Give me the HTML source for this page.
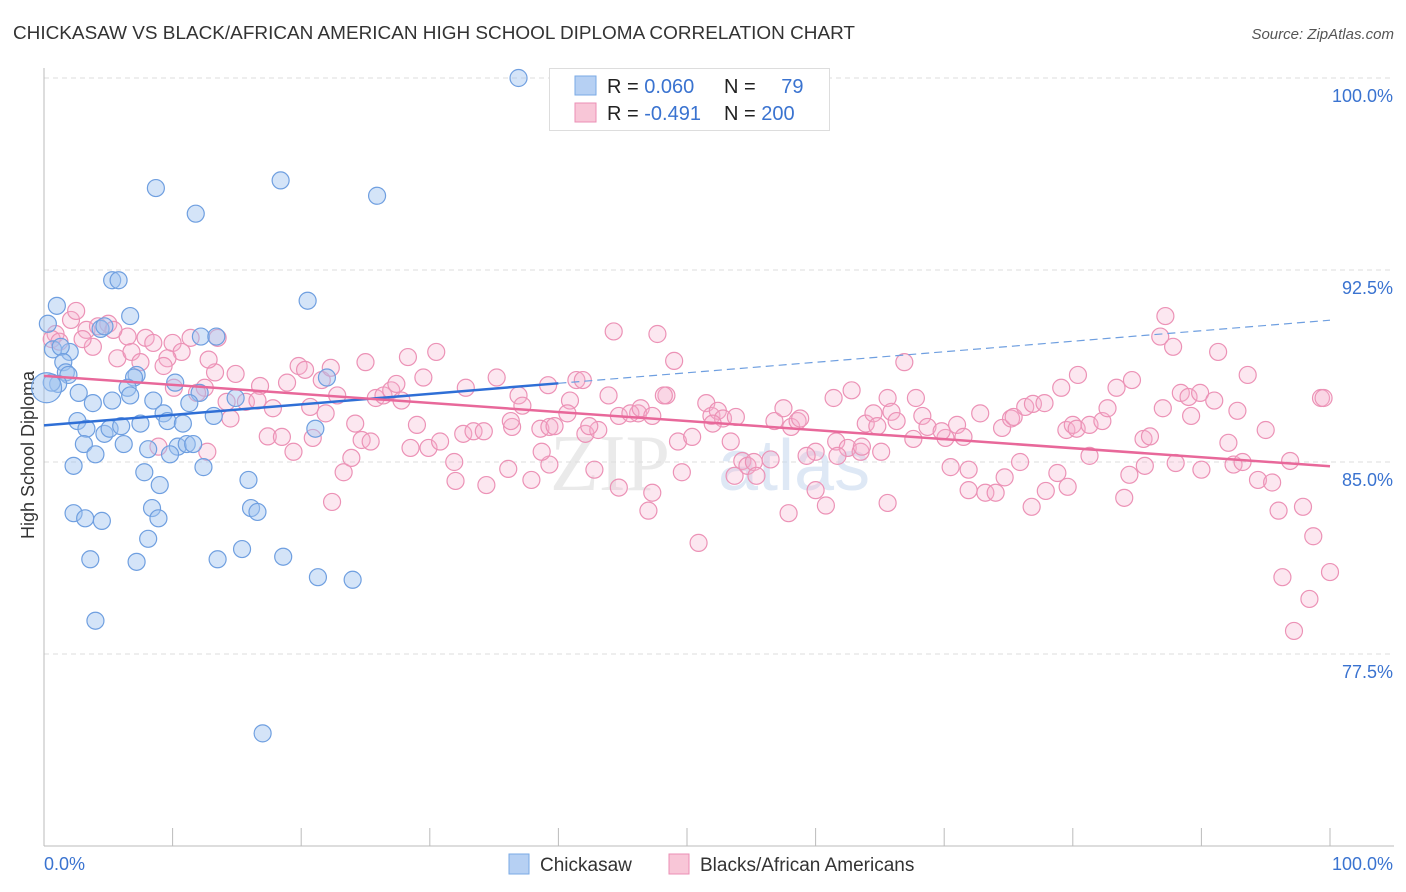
<!DOCTYPE html>
<html><head><meta charset="utf-8"><style>
body{margin:0;background:#fff;font-family:"Liberation Sans",sans-serif;}
svg{display:block}
</style></head><body>
<svg id="chart" width="1406" height="892">
<text x="13" y="39" font-size="18" fill="#333" textLength="842" lengthAdjust="spacingAndGlyphs">CHICKASAW VS BLACK/AFRICAN AMERICAN HIGH SCHOOL DIPLOMA CORRELATION CHART</text>
<text x="1394" y="39" font-size="15" fill="#555" font-style="italic" text-anchor="end">Source: ZipAtlas.com</text>
<text x="34" y="455" font-size="18" fill="#333" transform="rotate(-90 34 455)" text-anchor="middle">High School Diploma</text>
<g id="grid"></g>
<g id="watermark"><text x="550" y="490" font-size="80" fill="#ddd" font-family="Liberation Serif" opacity="0.6">ZIP</text><text x="718" y="490" font-size="72" fill="#c9d9f0" opacity="0.6">atlas</text></g>
<g id="pink"></g><g id="blue"></g><g id="lines"></g>
<g>
<rect x="549.5" y="68.5" width="280" height="62" fill="#fff" stroke="#ddd"/>
<rect x="575" y="76" width="21" height="19" fill="#b6d0f3" stroke="#7aaae6"/>
<rect x="575" y="103" width="21" height="19" fill="#f8c6d7" stroke="#eb8fb4"/>
<text x="607" y="93" font-size="20" fill="#222">R = <tspan fill="#3a73d0">0.060</tspan></text>
<text x="724" y="93" font-size="20" fill="#222">N = <tspan fill="#3a73d0" dx="20">79</tspan></text>
<text x="607" y="120" font-size="20" fill="#222">R = <tspan fill="#3a73d0">-0.491</tspan></text>
<text x="724" y="120" font-size="20" fill="#222">N = <tspan fill="#3a73d0">200</tspan></text>
</g>
<g>
<rect x="509" y="854" width="20" height="20" fill="#b6d0f3" stroke="#7aaae6"/>
<text x="540" y="871" font-size="19" fill="#333">Chickasaw</text>
<rect x="669" y="854" width="20" height="20" fill="#f8c6d7" stroke="#eb8fb4"/>
<text x="700" y="871" font-size="19" fill="#333">Blacks/African Americans</text>
</g>
</svg>
<script>
const xTicks=[0,10,20,30,40,50,60,70,80,90,100];
const yTicks=[77.5,85.0,92.5,100.0];
const blueX=[36.9,8.7,18.4,25.9,11.8,5.3,5.8,20.5,1.0,6.7,0.3,4.4,4.7,12.2,13.4,0.7,2.0,1.3,1.5,1.7,1.9,7.2,7.0,22.0,10.2,1.1,0.6,6.5,6.7,2.7,12.1,5.3,3.8,8.5,11.3,14.9,9.3,9.6,2.6,13.2,7.5,3.3,4.7,5.1,6.0,10.8,21.1,8.1,3.1,4.0,6.2,10.4,11.1,11.6,9.8,7.8,2.3,12.4,9.0,15.9,8.4,2.3,3.2,4.5,8.9,16.1,16.6,8.1,15.4,3.6,7.2,13.5,18.6,21.3,24.0,4.0,17.0,0.2];
const blueY=[100.0,95.7,96.0,95.4,94.7,92.1,92.1,91.3,91.1,90.7,90.4,90.2,90.3,89.9,89.9,89.4,89.3,89.5,88.9,88.5,88.4,88.4,88.3,88.3,88.1,88.05,88.1,87.9,87.6,87.7,87.7,87.4,87.3,87.4,87.3,87.5,86.9,86.6,86.6,86.8,86.5,86.3,86.1,86.3,86.4,86.5,86.3,85.5,85.7,85.3,85.7,85.6,85.7,85.7,85.3,84.6,84.85,84.8,84.1,84.3,83.2,83.0,82.8,82.7,82.8,83.2,83.05,82.0,81.6,81.2,81.1,81.2,81.3,80.5,80.4,78.8,74.4,87.9];
const pinkX=[44.3,47.7,87.2,86.8,87.8,91.3,93.6,99.3,84.6,83.4,80.4,66.9,62.8,61.4,65.6,67.8,49.0,48.4,46.2,43.9,40.9,41.4,41.9,35.2,32.8,29.5,30.5,28.3,25.0,19.8,20.3,21.6,16.8,18.9,15.7,14.9,13.3,12.5,11.9,12.8,11.4,10.0,10.7,9.6,7.9,6.5,5.7,6.8,7.5,8.5,3.8,3.3,2.1,2.5,0.9,0.6,1.2,3.0,4.2,5.0,5.4,9.3,10.1,13.5,14.2,16.6,17.8,20.7,21.9,22.8,24.2,25.8,26.4,27.0,27.4,27.8,29.0,29.9,30.8,32.6,33.4,34.2,36.4,36.9,37.2,36.3,38.6,39.3,39.7,40.7,42.1,43.1,44.7,45.6,46.4,47.3,48.2,49.3,50.4,51.5,51.9,52.4,52.8,53.4,54.3,54.7,55.2,56.5,56.8,57.5,58.1,58.6,58.8,60.0,61.6,62.5,63.5,63.9,64.5,64.8,65.9,66.3,67.6,68.3,68.7,70.1,71.0,71.5,72.8,74.5,75.2,75.4,76.3,76.9,77.8,79.1,79.5,80.0,80.3,81.3,82.3,82.7,85.5,86.0,87.0,88.4,89.0,89.2,89.9,91.0,92.1,92.8,95.0,99.5,92.5,94.4,95.5,96.9,97.9,96.0,98.7,100.0,96.3,98.4,97.2,50.9,44.7,47.3,49.6,47.0,53.7,55.4,57.9,60.0,60.8,65.6,70.5,71.9,73.2,74.0,75.9,76.8,77.9,78.8,79.6,84.0,84.4,88.0,32.0,36.1,37.9,39.3,38.7,42.8,22.4,23.3,23.9,24.7,25.4,31.9,28.5,22.3,12.7,8.9,14.5,17.4,18.5,19.4,20.9,39.2,34.4,42.4,52.0,53.8,59.3,61.7,63.6,65.1,69.8,71.9,74.7,81.3,85.6,90.0,93.2];
const pinkY=[90.1,90.0,90.7,89.9,89.5,89.3,88.4,87.5,88.2,87.9,88.4,88.9,87.8,87.5,87.5,87.5,88.95,87.6,86.9,87.6,87.4,88.2,88.2,88.3,87.9,88.3,89.3,89.1,88.9,88.75,88.6,88.2,87.97,88.1,87.35,88.44,88.5,87.9,87.7,89.0,89.85,89.65,89.3,89.05,89.85,89.9,89.05,89.3,88.9,89.65,89.5,90.16,90.55,90.9,90.0,89.8,89.7,89.8,90.3,90.4,90.16,88.75,87.9,89.85,87.35,87.4,87.1,87.15,86.9,87.6,86.5,87.5,87.6,87.8,88.05,87.4,86.45,85.55,85.8,86.1,86.2,86.2,86.37,87.6,87.2,86.6,86.3,86.37,86.4,86.9,86.1,86.25,86.8,86.9,87.1,86.8,87.6,85.8,85.98,87.3,86.8,87.0,86.7,85.8,85.04,84.85,85.0,85.1,86.6,87.1,86.37,86.6,86.7,85.4,85.8,85.55,85.4,86.5,86.9,86.4,86.96,86.6,85.9,86.8,86.37,85.94,86.45,85.98,86.9,86.33,86.7,86.76,87.15,87.27,87.3,87.9,86.25,86.45,86.3,86.45,86.6,87.1,85.9,86.0,87.1,87.7,87.54,86.8,87.7,87.4,85.75,87.0,86.25,87.5,84.9,84.3,84.2,85.04,83.25,83.1,82.1,80.7,80.5,79.65,78.4,81.84,84.0,83.8,84.6,83.1,84.46,84.46,83.0,83.9,83.3,83.4,84.8,84.7,83.8,83.8,85.0,83.25,83.87,84.57,84.03,83.6,84.5,84.96,84.26,84.73,84.3,84.9,85.4,84.7,83.44,84.6,85.16,85.86,85.8,85.0,85.55,88.68,85.4,85.6,86.7,86.0,85.98,85.4,85.94,88.0,84.1,86.4,86.5,86.76,85.24,85.24,85.6,85.4,86.2,83.9,84.4,85.24,84.85,84.7,85.0];

const NS='http://www.w3.org/2000/svg';
const X0=44,X1=1330,YT=78,YB=846,YMIN=70,YMAX=100;
const sx=v=>X0+(X1-X0)*v/100;
const sy=v=>YB-(YB-YT)*(v-YMIN)/(YMAX-YMIN);
function mk(tag,attrs,parent){const e=document.createElementNS(NS,tag);for(const k in attrs)e.setAttribute(k,attrs[k]);parent.appendChild(e);return e;}
const grid=document.getElementById('grid');
let ln=mk('line',{x1:X0,y1:YT,x2:1394,y2:YT,stroke:'#ddd','stroke-dasharray':'5,4'},grid);


yTicks.forEach(t=>{
  const g=mk('line',{x1:X0,y1:sy(t),x2:1394,y2:sy(t),stroke:'#ddd','stroke-dasharray':'5,4'},grid);
  
  
  const tx=mk('text',{x:1393,y:sy(t)+24,'font-size':18,fill:'#3a73d0','text-anchor':'end'},grid);
  tx.textContent=t.toFixed(1)+'%';
  
  
});
let ax=mk('line',{x1:X0,y1:68,x2:X0,y2:YB,stroke:'#bbb'},grid);


let bx=mk('line',{x1:X0,y1:YB,x2:1394,y2:YB,stroke:'#bbb'},grid);


xTicks.forEach(t=>{
  const g=mk('line',{x1:sx(t),y1:YB,x2:sx(t),y2:YB-18,stroke:'#bbb'},grid);
  
  
});
[[0,'start'],[100,'end']].forEach(([t,a])=>{
  const tx=mk('text',{x:t===0?44:1393,y:870,'font-size':18,fill:'#3a73d0','text-anchor':a},grid);
  tx.textContent=t.toFixed(1)+'%';
  
  
});
function pts(xs,ys,g,fill,stroke,name){
  xs.forEach((x,i)=>{
    const big=(name==='blue-point'&&i===xs.length-1);
    const c=mk('circle',{cx:sx(x),cy:sy(ys[i]),r:big?15:8.5,fill:fill,stroke:stroke,'stroke-width':1.2},g);
    
    
  });
}
pts(pinkX,pinkY,document.getElementById('pink'),'rgba(246,176,204,0.3)','#ec92b6','pink-point');
pts(blueX,blueY,document.getElementById('blue'),'rgba(160,196,240,0.45)','#6f9fe0','blue-point');
function reg(xs,ys){const n=xs.length;let mx=0,my=0;xs.forEach((x,i)=>{mx+=x;my+=ys[i];});mx/=n;my/=n;let a=0,b=0;xs.forEach((x,i)=>{a+=(x-mx)*(ys[i]-my);b+=(x-mx)*(x-mx);});const s=a/b;return [s,my-s*mx];}
const L=document.getElementById('lines');
const [bs,bi]=reg(blueX,blueY);
let l1=mk('line',{x1:sx(0),y1:sy(bi),x2:sx(40),y2:sy(bi+bs*40),stroke:'#2f6fd6','stroke-width':2.5},L);


let l2=mk('line',{x1:sx(40),y1:sy(bi+bs*40),x2:sx(100),y2:sy(bi+bs*100),stroke:'#6f9fe0','stroke-width':1.2,'stroke-dasharray':'8,5'},L);


const [ps,pi]=reg(pinkX,pinkY);
let l3=mk('line',{x1:sx(0),y1:sy(pi),x2:sx(100),y2:sy(pi+ps*100),stroke:'#e8689a','stroke-width':2.5},L);


</script>
</body></html>
